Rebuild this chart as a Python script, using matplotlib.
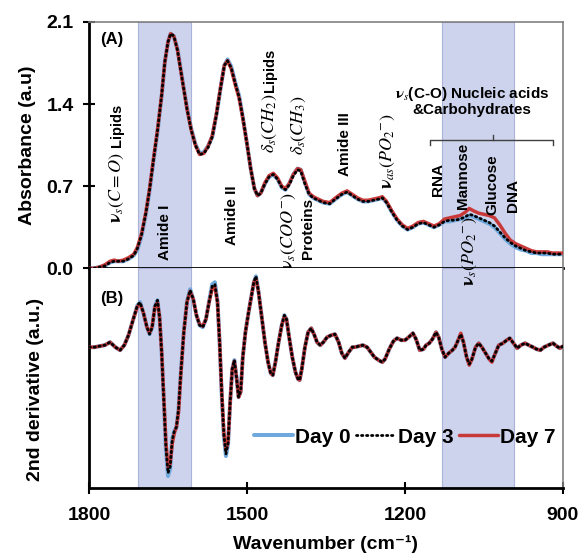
import matplotlib
matplotlib.use('Agg')
import matplotlib.pyplot as plt

plt.rcParams['font.family'] = ['Liberation Sans', 'DejaVu Sans']
plt.rcParams['mathtext.fontset'] = 'stix'

# ---- data ----
days = ['Day 0', 'Day 3', 'Day 7']

# (A) absorbance spectra
abs_wn = [1800, 1790, 1780, 1770, 1760, 1752, 1745, 1735, 1725, 1715,
          1708, 1700, 1692, 1685, 1678, 1670, 1662, 1656, 1650, 1645,
          1639, 1632, 1622, 1614, 1606, 1598, 1590, 1582, 1574, 1566,
          1558, 1550, 1543, 1537, 1530, 1522, 1515, 1508, 1500, 1493,
          1486, 1480, 1474, 1466, 1458, 1450, 1442, 1434, 1427, 1420,
          1412, 1404, 1398, 1390, 1382, 1374, 1365, 1355, 1343, 1332,
          1320, 1310, 1300, 1290, 1280, 1270, 1260, 1250, 1243, 1235,
          1225, 1215, 1205, 1195, 1185, 1175, 1165, 1155, 1145, 1135,
          1125, 1115, 1105, 1095, 1085, 1078, 1070, 1060, 1050, 1040,
          1030, 1020, 1010, 1000, 990, 980, 970, 960, 950, 940,
          930, 920, 910, 900]
abs_day7 = [0.00, 0.00, 0.01, 0.03, 0.06, 0.07, 0.06, 0.07, 0.09, 0.12,
            0.18, 0.30, 0.48, 0.68, 0.92, 1.18, 1.48, 1.76, 1.93, 2.00,
            1.98, 1.86, 1.58, 1.36, 1.18, 1.05, 0.97, 0.98, 1.04, 1.13,
            1.32, 1.55, 1.73, 1.77, 1.70, 1.56, 1.45, 1.28, 1.06, 0.85,
            0.68, 0.62, 0.64, 0.73, 0.79, 0.81, 0.77, 0.70, 0.68, 0.72,
            0.80, 0.85, 0.84, 0.74, 0.64, 0.61, 0.59, 0.57, 0.56, 0.60,
            0.64, 0.66, 0.63, 0.60, 0.58, 0.58, 0.59, 0.60, 0.61, 0.57,
            0.49, 0.42, 0.37, 0.34, 0.36, 0.39, 0.40, 0.38, 0.36, 0.38,
            0.42, 0.43, 0.44, 0.45, 0.48, 0.51, 0.49, 0.47, 0.46, 0.45,
            0.43, 0.37, 0.30, 0.24, 0.21, 0.19, 0.17, 0.15, 0.14, 0.14,
            0.14, 0.13, 0.13, 0.13]
abs_day3 = [0.00, 0.00, 0.01, 0.02, 0.05, 0.06, 0.06, 0.06, 0.08, 0.11,
            0.17, 0.29, 0.47, 0.67, 0.91, 1.17, 1.48, 1.76, 1.93, 2.00,
            1.98, 1.86, 1.58, 1.36, 1.18, 1.05, 0.97, 0.98, 1.03, 1.12,
            1.31, 1.54, 1.73, 1.77, 1.71, 1.57, 1.46, 1.29, 1.06, 0.85,
            0.68, 0.62, 0.64, 0.72, 0.78, 0.80, 0.76, 0.69, 0.67, 0.71,
            0.79, 0.84, 0.83, 0.72, 0.63, 0.60, 0.58, 0.56, 0.55, 0.59,
            0.63, 0.65, 0.62, 0.59, 0.57, 0.57, 0.58, 0.59, 0.60, 0.56,
            0.48, 0.41, 0.36, 0.33, 0.35, 0.38, 0.39, 0.37, 0.35, 0.37,
            0.40, 0.41, 0.41, 0.42, 0.44, 0.46, 0.45, 0.43, 0.41, 0.39,
            0.36, 0.31, 0.26, 0.22, 0.19, 0.17, 0.15, 0.14, 0.13, 0.13,
            0.13, 0.12, 0.12, 0.12]
abs_day0 = [0.00, 0.00, 0.01, 0.02, 0.05, 0.06, 0.06, 0.06, 0.08, 0.11,
            0.16, 0.28, 0.46, 0.66, 0.90, 1.16, 1.47, 1.76, 1.93, 2.00,
            1.98, 1.87, 1.59, 1.37, 1.19, 1.06, 0.98, 0.99, 1.04, 1.12,
            1.31, 1.54, 1.73, 1.78, 1.72, 1.58, 1.47, 1.29, 1.06, 0.85,
            0.68, 0.62, 0.64, 0.72, 0.78, 0.80, 0.76, 0.69, 0.67, 0.72,
            0.80, 0.85, 0.84, 0.73, 0.63, 0.60, 0.58, 0.56, 0.55, 0.59,
            0.63, 0.65, 0.62, 0.59, 0.57, 0.57, 0.58, 0.59, 0.60, 0.56,
            0.48, 0.41, 0.36, 0.33, 0.35, 0.38, 0.39, 0.37, 0.35, 0.37,
            0.40, 0.40, 0.41, 0.42, 0.43, 0.45, 0.44, 0.42, 0.40, 0.38,
            0.35, 0.30, 0.25, 0.21, 0.18, 0.16, 0.15, 0.13, 0.13, 0.12,
            0.12, 0.12, 0.12, 0.12]

# (B) second derivative spectra
deriv_wn = [1800, 1790, 1780, 1770, 1760, 1750, 1741, 1733, 1725, 1716,
            1708, 1703, 1697, 1690, 1685, 1680, 1675, 1670, 1666, 1662,
            1658, 1654, 1650, 1646, 1642, 1638, 1634, 1630, 1626, 1620,
            1614, 1608, 1602, 1596, 1590, 1584, 1578, 1572, 1566, 1561,
            1556, 1552, 1548, 1544, 1540, 1536, 1532, 1528, 1524, 1520,
            1516, 1512, 1508, 1503, 1497, 1492, 1487, 1483, 1478, 1472,
            1466, 1460, 1455, 1451, 1446, 1440, 1434, 1429, 1425, 1420,
            1414, 1408, 1403, 1400, 1396, 1390, 1384, 1378, 1372, 1367,
            1361, 1355, 1348, 1340, 1333, 1326, 1320, 1314, 1307, 1300,
            1295, 1288, 1280, 1272, 1265, 1258, 1250, 1243, 1238, 1230,
            1222, 1215, 1207, 1200, 1193, 1185, 1179, 1172, 1165, 1160,
            1154, 1148, 1141, 1136, 1130, 1124, 1117, 1110, 1105, 1100,
            1094, 1089, 1083, 1078, 1073, 1066, 1060, 1054, 1047, 1040,
            1035, 1030, 1022, 1014, 1007, 1001, 994, 987, 980, 972,
            965, 957, 950, 943, 936, 928, 919, 912, 906, 900]
deriv_day7 = [0.00, 0.00, 0.01, 0.02, 0.05, 0.00, -0.03, 0.02, 0.12, 0.28,
              0.41, 0.43, 0.35, 0.20, 0.14, 0.21, 0.40, 0.45, 0.30, -0.05,
              -0.50, -0.95, -1.20, -1.17, -0.97, -0.86, -0.80, -0.65, -0.30, 0.15,
              0.45, 0.56, 0.48, 0.32, 0.23, 0.21, 0.28, 0.45, 0.59, 0.60,
              0.45, 0.05, -0.45, -0.85, -1.03, -0.95, -0.55, -0.22, -0.14, -0.30,
              -0.50, -0.45, -0.10, 0.15, 0.35, 0.50, 0.65, 0.69, 0.55, 0.30,
              0.05, -0.15, -0.26, -0.28, -0.15, 0.05, 0.22, 0.31, 0.28, 0.10,
              -0.10, -0.25, -0.32, -0.33, -0.22, 0.00, 0.15, 0.19, 0.12, 0.05,
              0.02, 0.05, 0.10, 0.12, 0.13, 0.05, -0.06, -0.11, -0.05, 0.00,
              0.00, 0.01, 0.02, 0.00, -0.05, -0.10, -0.13, -0.15, -0.12, -0.02,
              0.06, 0.09, 0.07, 0.07, 0.10, 0.14, 0.08, -0.03, -0.02, 0.02,
              0.04, 0.08, 0.15, 0.10, -0.02, -0.10, -0.06, -0.03, 0.00, 0.06,
              0.14, 0.05, -0.10, -0.18, -0.12, 0.00, 0.04, 0.00, -0.06, -0.12,
              -0.15, -0.08, 0.02, 0.04, 0.07, 0.09, 0.04, -0.01, 0.02, 0.04,
              0.02, 0.00, -0.02, -0.03, 0.00, 0.02, 0.04, 0.01, -0.01, 0.01]
deriv_day3 = [0.00, 0.00, 0.01, 0.02, 0.05, 0.00, -0.03, 0.02, 0.12, 0.28,
              0.42, 0.45, 0.35, 0.20, 0.13, 0.20, 0.41, 0.47, 0.30, -0.06,
              -0.52, -1.00, -1.26, -1.20, -0.93, -0.84, -0.80, -0.62, -0.28, 0.15,
              0.45, 0.57, 0.48, 0.32, 0.22, 0.20, 0.28, 0.45, 0.61, 0.63,
              0.45, 0.05, -0.46, -0.87, -1.07, -0.96, -0.55, -0.22, -0.13, -0.30,
              -0.50, -0.44, -0.10, 0.15, 0.35, 0.50, 0.65, 0.71, 0.55, 0.30,
              0.05, -0.15, -0.26, -0.28, -0.15, 0.05, 0.22, 0.32, 0.28, 0.10,
              -0.10, -0.25, -0.32, -0.33, -0.22, 0.00, 0.15, 0.19, 0.12, 0.05,
              0.02, 0.05, 0.10, 0.12, 0.13, 0.05, -0.06, -0.11, -0.05, 0.00,
              0.00, 0.01, 0.02, 0.00, -0.05, -0.10, -0.13, -0.15, -0.12, -0.02,
              0.06, 0.09, 0.07, 0.07, 0.10, 0.14, 0.08, -0.03, -0.02, 0.02,
              0.04, 0.08, 0.15, 0.10, -0.02, -0.10, -0.06, -0.03, 0.00, 0.06,
              0.13, 0.05, -0.10, -0.17, -0.12, 0.00, 0.04, 0.00, -0.06, -0.12,
              -0.14, -0.08, 0.02, 0.04, 0.07, 0.09, 0.04, -0.01, 0.02, 0.04,
              0.02, 0.00, -0.02, -0.03, 0.00, 0.02, 0.04, 0.01, -0.01, 0.01]
deriv_day0 = [0.00, 0.00, 0.01, 0.02, 0.05, 0.00, -0.03, 0.02, 0.12, 0.28,
              0.42, 0.45, 0.35, 0.20, 0.13, 0.20, 0.41, 0.47, 0.30, -0.06,
              -0.52, -1.02, -1.29, -1.22, -0.92, -0.84, -0.80, -0.62, -0.28, 0.16,
              0.46, 0.58, 0.48, 0.32, 0.22, 0.20, 0.28, 0.46, 0.63, 0.65,
              0.46, 0.05, -0.47, -0.89, -1.09, -0.97, -0.55, -0.22, -0.13, -0.30,
              -0.50, -0.44, -0.10, 0.15, 0.35, 0.50, 0.65, 0.71, 0.55, 0.30,
              0.05, -0.15, -0.26, -0.28, -0.15, 0.05, 0.22, 0.32, 0.28, 0.10,
              -0.10, -0.25, -0.32, -0.33, -0.22, 0.00, 0.15, 0.19, 0.12, 0.05,
              0.02, 0.05, 0.10, 0.12, 0.13, 0.05, -0.06, -0.11, -0.05, 0.00,
              0.00, 0.01, 0.02, 0.00, -0.05, -0.10, -0.13, -0.15, -0.12, -0.02,
              0.06, 0.09, 0.07, 0.07, 0.10, 0.14, 0.08, -0.03, -0.02, 0.02,
              0.04, 0.08, 0.15, 0.10, -0.02, -0.10, -0.06, -0.03, 0.00, 0.06,
              0.13, 0.05, -0.10, -0.17, -0.12, 0.00, 0.04, 0.00, -0.06, -0.12,
              -0.14, -0.08, 0.02, 0.04, 0.07, 0.09, 0.04, -0.01, 0.02, 0.04,
              0.02, 0.00, -0.02, -0.03, 0.00, 0.02, 0.04, 0.01, -0.01, 0.01]

abs_ticks = [0.0, 0.7, 1.4, 2.1]
wn_ticks = [1800, 1500, 1200, 900]
bands = [(1707, 1606), (1130, 993)]

blue = '#6fa8dc'
red = '#c83a3a'
band_face = '#cdd3ec'
band_edge = '#aab4da'

fig = plt.figure(figsize=(5.81, 5.55), dpi=100)
ax1 = fig.add_axes([0.1532, 0.5166, 0.8158, 0.4438])
ax2 = fig.add_axes([0.1532, 0.1207, 0.8158, 0.3959], sharex=ax1)

for ax in (ax1, ax2):
    for lo, hi in bands:
        ax.axvspan(lo, hi, facecolor=band_face, edgecolor=band_edge, lw=0.8, zorder=0)

# day 0 blue, day 7 red, day 3 dotted black on top
blue_style = dict(color=blue, lw=2.9, solid_joinstyle='round', solid_capstyle='round')
red_style = dict(color=red, lw=2.5, solid_joinstyle='round', solid_capstyle='round')
dot_style = dict(color='black', lw=2.0, linestyle=(0, (0.5, 1.3)), dash_capstyle='round')

ax1.plot(abs_wn, abs_day0, zorder=2, **blue_style)
ax1.plot(abs_wn, abs_day7, zorder=3, **red_style)
ax1.plot(abs_wn, abs_day3, zorder=4, **dot_style)

l0, = ax2.plot(deriv_wn, deriv_day0, zorder=2, label=days[0], **blue_style)
l7, = ax2.plot(deriv_wn, deriv_day7, zorder=3, label=days[2], **red_style)
l3, = ax2.plot(deriv_wn, deriv_day3, zorder=4, label=days[1], **dot_style)

ax2.set_xlim(1800, 900)
ax1.set_ylim(0, 2.1)
ax2.set_ylim(-1.41, 0.79)

# spines
for ax in (ax1, ax2):
    ax.spines['left'].set_linewidth(2)
    ax.spines['bottom'].set_linewidth(2)
    ax.spines['right'].set_color('#808080')
    ax.spines['right'].set_linewidth(1.2)
ax1.spines['top'].set_color('#808080')
ax1.spines['top'].set_linewidth(1.2)
ax2.spines['top'].set_visible(False)

# ticks
ax1.set_yticks(abs_ticks)
ax1.set_yticklabels([f'{t:.1f}' for t in abs_ticks])
ax1.tick_params(axis='y', direction='inout', length=8, width=1.5, pad=7, labelsize=14)
ax1.tick_params(axis='x', bottom=False, labelbottom=False)
ax2.set_yticks([])
ax2.set_xticks(wn_ticks)
ax2.tick_params(axis='x', direction='inout', length=8, width=1.5, pad=10, labelsize=14)
for lbl in ax1.get_yticklabels() + ax2.get_xticklabels():
    lbl.set_fontweight('bold')

ax1.set_ylabel('Absorbance (a.u)', fontsize=14, fontweight='bold')
ax1.yaxis.set_label_coords(-0.112, 0.5)
ax2.set_ylabel('2nd derivative (a.u.)', fontsize=14, fontweight='bold')
ax2.yaxis.set_label_coords(-0.094, 0.45)
ax2.set_xlabel('Wavenumber (cm⁻¹)', fontsize=14, fontweight='bold', labelpad=8)

# panel tags
ax1.text(0.023, 0.91, '(A)', transform=ax1.transAxes, fontsize=12, fontweight='bold')
ax2.text(0.023, 0.84, '(B)', transform=ax2.transAxes, fontsize=12, fontweight='bold')

# band annotations
ann = dict(rotation=90, ha='center', va='center', fontsize=11, fontweight='bold')
ann_m = dict(ann, fontsize=13)
ann_s = dict(ann, fontsize=10.5)
ax1.text(1747, 0.69, r'$\mathbf{\nu}_s(C=O)$', **ann_m)
ax1.text(1747, 1.22, 'Lipids', **ann_s)
ax1.text(1656, 0.31, 'Amide I', **ann)
ax1.text(1528, 0.45, 'Amide II', **ann)
ax1.text(1456, 1.24, r'$\delta_s(CH_2)$', **ann_m)
ax1.text(1456, 1.69, 'Lipids', **ann_s)
ax1.text(1401, 1.22, r'$\delta_s(CH_3)$', **ann_m)
ax1.text(1420, 0.32, r'$\mathbf{\nu}_s(COO^{-})$', **ann_m)
ax1.text(1384, 0.34, 'Proteins', **ann)
ax1.text(1314, 1.06, 'Amide III', **ann)
ax1.text(1232, 1.00, r'$\mathbf{\nu}_{as}(PO_2{}^{-})$', **ann_m)
ax1.text(1137, 0.76, 'RNA', **ann)
ax1.text(1090, 0.79, 'Mannose', **ann)
ax1.text(1035, 0.71, 'Glucose', **ann)
ax1.text(995, 0.62, 'DNA', **ann)
# this one runs over the panel border, so it goes on the figure
fig.text(1077, 0.145, r'$\mathbf{\nu}_s(PO_2{}^{-})$', transform=ax1.transData, zorder=5, **ann_m)

ax1.text(1073, 1.49, r'$\mathbf{\nu}_s$(C-O) Nucleic acids', ha='center', va='center',
         fontsize=11, fontweight='bold')
ax1.text(1073, 1.35, '&Carbohydrates', ha='center', va='center',
         fontsize=11, fontweight='bold')

# bracket over the carbohydrate region
ax1.plot([1152, 1152, 919, 919], [1.05, 1.09, 1.09, 1.05], color='#404040', lw=1)
ax1.plot([1033, 1033], [1.09, 1.135], color='#404040', lw=1)

ax2.legend(handles=[l0, l3, l7], loc='center', bbox_to_anchor=(0.666, 0.232), ncol=3,
           frameon=False, handlelength=1.9, handletextpad=0.1, columnspacing=0.25,
           prop={'weight': 'bold', 'size': 15})

fig.savefig('out.png', dpi=100)
